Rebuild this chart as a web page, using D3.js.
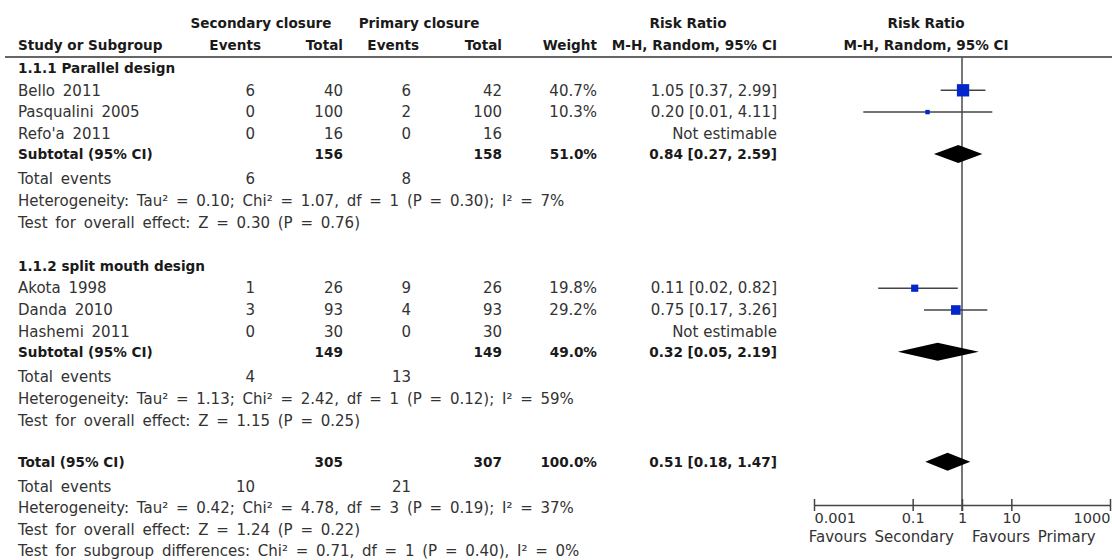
<!DOCTYPE html>
<html>
<head>
<meta charset="utf-8">
<script src="https://cdn.jsdelivr.net/npm/d3@7"></script>
<style>
  body { margin: 0; background: #fff; }
  svg text { font-family: "DejaVu Sans", sans-serif; font-size: 15px; fill: #333; word-spacing: 3px; }
  svg text.b { font-weight: bold; font-size: 13.6px; fill: #1a1a1a; word-spacing: 0; }
  svg text.n { word-spacing: 0; }
</style>
</head>
<body>
<div id="chart"></div>
<script>
// datos del forest plot
const studies = ["Bello 2011", "Pasqualini 2005", "Refo'a 2011", "Akota 1998", "Danda 2010", "Hashemi 2011"];
const studyGroup = [0, 0, 0, 1, 1, 1];
const secEvents = [6, 0, 0, 1, 3, 0];
const secTotal = [40, 100, 16, 26, 93, 30];
const priEvents = [6, 2, 0, 9, 4, 0];
const priTotal = [42, 100, 16, 26, 93, 30];
const weights = [40.7, 10.3, null, 19.8, 29.2, null];
const rr = [1.05, 0.20, null, 0.11, 0.75, null];
const rrLow = [0.37, 0.01, null, 0.02, 0.17, null];
const rrHigh = [2.99, 4.11, null, 0.82, 3.26, null];

const groups = ["1.1.1 Parallel design", "1.1.2 split mouth design"];
const subSecTotal = [156, 149];
const subPriTotal = [158, 149];
const subWeight = [51.0, 49.0];
const subSecEvents = [6, 4];
const subPriEvents = [8, 13];
const subRR = [0.84, 0.32];
const subLow = [0.27, 0.05];
const subHigh = [2.59, 2.19];
const subHet = [
  "Heterogeneity: Tau² = 0.10; Chi² = 1.07, df = 1 (P = 0.30); I² = 7%",
  "Heterogeneity: Tau² = 1.13; Chi² = 2.42, df = 1 (P = 0.12); I² = 59%"
];
const subTest = ["Test for overall effect: Z = 0.30 (P = 0.76)", "Test for overall effect: Z = 1.15 (P = 0.25)"];

const total = { secTotal: 305, priTotal: 307, weight: 100.0, secEvents: 10, priEvents: 21, rr: 0.51, low: 0.18, high: 1.47 };
const totalNotes = [
  "Heterogeneity: Tau² = 0.42; Chi² = 4.78, df = 3 (P = 0.19); I² = 37%",
  "Test for overall effect: Z = 1.24 (P = 0.22)",
  "Test for subgroup differences: Chi² = 0.71, df = 1 (P = 0.40), I² = 0%"
];

const tickValues = [0.001, 0.1, 1, 10, 1000];
const tickLabels = ["0.001", "0.1", "1", "10", "1000"];
const favours = ["Favours Secondary", "Favours Primary"];

// tamaño
const [w, h] = [1112, 560];
const svg = d3.select('#chart').append('svg').attr('width', w).attr('height', h);

// columnas (borde derecho)
const col = { label: 18, secEv: 255, secTot: 343, priEv: 411, priTot: 502, weight: 597, ci: 777 };
const f2 = d3.format(".2f");
const ciText = (m, l, u) => f2(m) + " [" + f2(l) + ", " + f2(u) + "]";
const wText = (v) => d3.format(".1f")(v) + "%";

// escala del forest plot
const xScale = d3.scaleLog().domain([0.001, 1000]).range([814, 1110]);
const boxSize = d3.scalePow().exponent(0.75).domain([0, 40.7]).range([0, 12.3]);
const axisY = 505;

function txt(x, y, s, anchor, cls) {
  svg.append('text')
    .attr('x', x).attr('y', y)
    .attr('dy', '0.35em')
    .attr('text-anchor', anchor || 'start')
    .attr('class', cls || null)
    .text(s);
}

// cabecera
txt(261, 23, "Secondary closure", 'middle', 'b');
txt(419, 23, "Primary closure", 'middle', 'b');
txt(688, 23, "Risk Ratio", 'middle', 'b');
txt(926, 23, "Risk Ratio", 'middle', 'b');
txt(col.label, 45, "Study or Subgroup", 'start', 'b');
txt(261, 45, "Events", 'end', 'b');
txt(col.secTot, 45, "Total", 'end', 'b');
txt(419, 45, "Events", 'end', 'b');
txt(col.priTot, 45, "Total", 'end', 'b');
txt(col.weight, 45, "Weight", 'end', 'b');
txt(col.ci, 45, "M-H, Random, 95% CI", 'end', 'b');
txt(926, 45, "M-H, Random, 95% CI", 'middle', 'b');

svg.append('line')
  .attr('x1', 5).attr('x2', w)
  .attr('y1', 57).attr('y2', 57)
  .attr('stroke', '#666').attr('stroke-width', 2);

// linea vertical en RR = 1
svg.append('line')
  .attr('x1', xScale(1)).attr('x2', xScale(1))
  .attr('y1', 57).attr('y2', axisY + 6)
  .attr('stroke', '#555').attr('stroke-width', 1.6);

function diamond(y, m, l, u) {
  const hh = 9;
  svg.append('path')
    .attr('d', "M" + xScale(l) + "," + y + "L" + xScale(m) + "," + (y - hh) +
      "L" + xScale(u) + "," + y + "L" + xScale(m) + "," + (y + hh) + "Z")
    .attr('fill', '#000');
}

// filas
let y = 68.5;
groups.forEach((g, gi) => {
  txt(col.label, y, g, 'start', 'b');
  const idx = studies.map((s, i) => i).filter(i => studyGroup[i] === gi);
  idx.forEach((i) => {
    y += 21.8;
    txt(col.label, y, studies[i]);
    txt(col.secEv, y, secEvents[i], 'end');
    txt(col.secTot, y, secTotal[i], 'end');
    txt(col.priEv, y, priEvents[i], 'end');
    txt(col.priTot, y, priTotal[i], 'end');
    if (weights[i] !== null) {
      txt(col.weight, y, wText(weights[i]), 'end');
      txt(col.ci, y, ciText(rr[i], rrLow[i], rrHigh[i]), 'end', 'n');
      svg.append('line')
        .attr('x1', xScale(rrLow[i])).attr('x2', xScale(rrHigh[i]))
        .attr('y1', y).attr('y2', y)
        .attr('stroke', '#444').attr('stroke-width', 1.5);
      const s = boxSize(weights[i]);
      svg.append('rect')
        .attr('x', xScale(rr[i]) - s / 2).attr('y', y - s / 2)
        .attr('width', s).attr('height', s)
        .attr('fill', '#0026cc');
    } else {
      txt(col.ci, y, "Not estimable", 'end', 'n');
    }
  });
  y += 20;
  txt(col.label, y, "Subtotal (95% CI)", 'start', 'b');
  txt(col.secTot, y, subSecTotal[gi], 'end', 'b');
  txt(col.priTot, y, subPriTotal[gi], 'end', 'b');
  txt(col.weight, y, wText(subWeight[gi]), 'end', 'b');
  txt(col.ci, y, ciText(subRR[gi], subLow[gi], subHigh[gi]), 'end', 'b');
  diamond(y, subRR[gi], subLow[gi], subHigh[gi]);
  y += 24.5;
  txt(col.label, y, "Total events");
  txt(col.secEv, y, subSecEvents[gi], 'end');
  txt(col.priEv, y, subPriEvents[gi], 'end');
  y += 22;
  txt(col.label, y, subHet[gi]);
  y += 22;
  txt(col.label, y, subTest[gi]);
  y += 44;
});

// total
y -= 2.5;
txt(col.label, y, "Total (95% CI)", 'start', 'b');
txt(col.secTot, y, total.secTotal, 'end', 'b');
txt(col.priTot, y, total.priTotal, 'end', 'b');
txt(col.weight, y, wText(total.weight), 'end', 'b');
txt(col.ci, y, ciText(total.rr, total.low, total.high), 'end', 'b');
diamond(y, total.rr, total.low, total.high);
y += 24.5;
txt(col.label, y, "Total events");
txt(col.secEv, y, total.secEvents, 'end');
txt(col.priEv, y, total.priEvents, 'end');
totalNotes.forEach((n) => {
  y += 21.5;
  txt(col.label, y, n);
});

// eje
const eje = d3.axisBottom(xScale)
  .tickValues(tickValues)
  .tickFormat((d, i) => tickLabels[i])
  .tickSizeInner(6)
  .tickSizeOuter(0)
  .tickPadding(2);

const gAxis = svg.append('g')
  .attr('transform', "translate(0," + axisY + ")")
  .call(eje);
gAxis.select('.domain').attr('stroke', '#444').attr('stroke-width', 1.5);
gAxis.selectAll('.tick line').attr('stroke', '#444').attr('stroke-width', 1.5).attr('y1', -6);
gAxis.selectAll('.tick text')
  .style('font-family', '"DejaVu Sans", sans-serif')
  .style('font-size', '14.5px')
  .attr('fill', '#333')
  .attr('text-anchor', (d, i) => i === 0 ? 'start' : (i === tickValues.length - 1 ? 'end' : 'middle'));

txt(xScale(1) - 8, 537, favours[0], 'end');
txt(xScale(1) + 10, 537, favours[1], 'start');
</script>
</body>
</html>
